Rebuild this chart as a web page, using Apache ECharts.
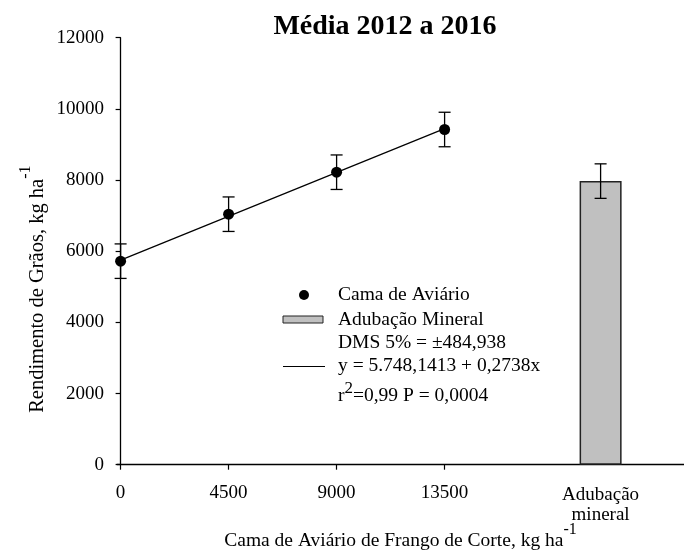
<!DOCTYPE html>
<html>
<head>
<meta charset="utf-8">
<title>Média 2012 a 2016</title>
<script src="https://cdn.jsdelivr.net/npm/echarts@6/dist/echarts.min.js"></script>
<style>
  html, body { margin: 0; padding: 0; background: #ffffff; }
  #chart { width: 684px; height: 550px; }
</style>
</head>
<body>
<div id="chart"></div>
<script>
// Doses of poultry litter (kg/ha) and mean grain yield (kg/ha), 2012-2016
const doses = [0, 4500, 9000, 13500];
const yieldCama = [5720, 7040, 8220, 9420];

// Mineral fertilisation treatment, shown as a bar to the right of the doses
const mineralPosition = 20000;
const mineralLabel = '{m|Adubação}\n{m|mineral}';
const yieldMineral = 7970;

// Least significant difference (5%), used as the error bar half-length
const dms = 484.938;

// Fitted linear regression y = a + b x
const intercept = 5748.1413;
const slope = 0.2738;

// Axis ticks
const xTicks = [0, 4500, 9000, 13500];
const yMin = 0, yMax = 12000, yStep = 2000;

// Legend texts
const legendCama = 'Cama de Aviário';
const legendMineral = 'Adubação Mineral';
const legendDms = 'DMS 5% = ±484,938';
const legendFit = 'y = 5.748,1413 + 0,2738x';

const FONT = '"Liberation Serif", "Times New Roman", Times, serif';
const BAR_FILL = '#c0c0c0';
const BAR_EDGE = '#222';

const scatterData = doses.map((d, i) => [d, yieldCama[i]]);
const barData = [[mineralPosition, yieldMineral]];
const errorData = scatterData.map(p => [p[0], p[1], dms]).concat([[mineralPosition, yieldMineral, dms]]);
const fitData = [doses[0], doses[doses.length - 1]].map(x => [x, intercept + slope * x]);

// Rich text styles for a raised superscript: the superscript token gets a tall
// line box (centred), the base text sits at the bottom of the line.
function supStyles(size, supSize, raise) {
  return {
    base: { fontSize: size, fontFamily: FONT, color: '#000', lineHeight: size, verticalAlign: 'bottom' },
    sup: { fontSize: supSize, fontFamily: FONT, color: '#000', lineHeight: size + 2 * raise, verticalAlign: 'middle' }
  };
}

const legendText = (x, y, text) => ({
  type: 'text', silent: true,
  style: { x, y, text, font: '19.5px ' + FONT, fill: '#000', verticalAlign: 'middle', align: 'left' }
});

const chart = echarts.init(document.getElementById('chart'), null, { renderer: 'canvas' });

chart.setOption({
  backgroundColor: '#ffffff',
  animation: false,
  title: {
    text: 'Média 2012 a 2016',
    left: 385,
    top: 13,
    padding: 0,
    textAlign: 'center',
    textStyle: { fontFamily: FONT, fontWeight: 'bold', fontSize: 28, color: '#000' }
  },
  grid: { left: 117, right: 0, top: 37.7, bottom: 85.3, outerBoundsMode: 'none', containLabel: false },
  graphic: [
    // legend block inside the plot
    { type: 'circle', silent: true, shape: { cx: 304, cy: 295, r: 5 }, style: { fill: '#000' } },
    legendText(338, 295, legendCama),
    { type: 'rect', silent: true, shape: { x: 283, y: 316, width: 40, height: 7 }, style: { fill: BAR_FILL, stroke: BAR_EDGE, lineWidth: 1 } },
    legendText(338, 320, legendMineral),
    legendText(338, 343, legendDms),
    { type: 'line', silent: true, shape: { x1: 283, y1: 366.5, x2: 325, y2: 366.5 }, style: { stroke: '#000', lineWidth: 1.2 } },
    legendText(338, 366, legendFit),
    {
      type: 'text', silent: true,
      style: {
        x: 338, y: 372,
        text: '{base|r}{sup|2}{base|=0,99 P = 0,0004}',
        rich: supStyles(19.5, 17, 7),
        verticalAlign: 'top'
      }
    }
  ],
  xAxis: {
    type: 'value',
    min: -150,
    max: 23475,
    splitLine: { show: false },
    axisLine: { show: true, onZero: false, lineStyle: { color: '#000', width: 1.3 } },
    axisTick: { show: true, customValues: xTicks, length: 5, lineStyle: { color: '#000', width: 1.2 } },
    axisLabel: {
      customValues: xTicks.concat([mineralPosition]),
      formatter: v => (v === mineralPosition ? mineralLabel : String(v)),
      fontFamily: FONT, fontSize: 19, color: '#000', margin: 19, lineHeight: 19,
      rich: { m: { fontFamily: FONT, fontSize: 19, color: '#000', lineHeight: 20, padding: [3, 0, 0, 0] } }
    },
    name: '{base|Cama de Aviário de Frango de Corte, kg ha}{sup|-1}',
    nameLocation: 'middle',
    nameGap: 43,
    nameMoveOverlap: false,
    nameTextStyle: { rich: supStyles(19.5, 16, 12) }
  },
  yAxis: {
    type: 'value',
    min: yMin,
    max: yMax,
    interval: yStep,
    splitLine: { show: false },
    axisLine: { show: true, lineStyle: { color: '#000', width: 1.3 } },
    axisTick: { show: true, length: 5, lineStyle: { color: '#000', width: 1.2 } },
    axisLabel: { fontFamily: FONT, fontSize: 19, color: '#000', margin: 13, formatter: v => String(v) },
    name: '{base|Rendimento de Grãos, kg ha}{sup|-1}',
    nameLocation: 'middle',
    nameGap: 69,
    nameMoveOverlap: false,
    nameTextStyle: { rich: supStyles(20.5, 16, 12), padding: [0, 76, 0, 0] }
  },
  series: [
    {
      name: legendMineral,
      type: 'bar',
      data: barData,
      barWidth: 42,
      itemStyle: { color: BAR_FILL, borderColor: BAR_EDGE, borderWidth: 1.5 },
      z: 2
    },
    {
      name: legendFit,
      type: 'line',
      data: fitData,
      symbol: 'none',
      lineStyle: { color: '#000', width: 1.2 },
      z: 3
    },
    {
      name: 'DMS',
      type: 'custom',
      data: errorData,
      z: 4,
      renderItem: (params, api) => {
        const x = api.value(0), y = api.value(1), e = api.value(2);
        const top = api.coord([x, y + e]);
        const bot = api.coord([x, y - e]);
        const hw = 6;
        const style = { stroke: '#000', lineWidth: 1.3 };
        return {
          type: 'group',
          children: [
            { type: 'line', shape: { x1: top[0], y1: top[1], x2: bot[0], y2: bot[1] }, style },
            { type: 'line', shape: { x1: top[0] - hw, y1: top[1], x2: top[0] + hw, y2: top[1] }, style },
            { type: 'line', shape: { x1: bot[0] - hw, y1: bot[1], x2: bot[0] + hw, y2: bot[1] }, style }
          ]
        };
      }
    },
    {
      name: legendCama,
      type: 'scatter',
      data: scatterData,
      symbol: 'circle',
      symbolSize: 11,
      itemStyle: { color: '#000', opacity: 1 },
      z: 5
    }
  ]
});
</script>
</body>
</html>
